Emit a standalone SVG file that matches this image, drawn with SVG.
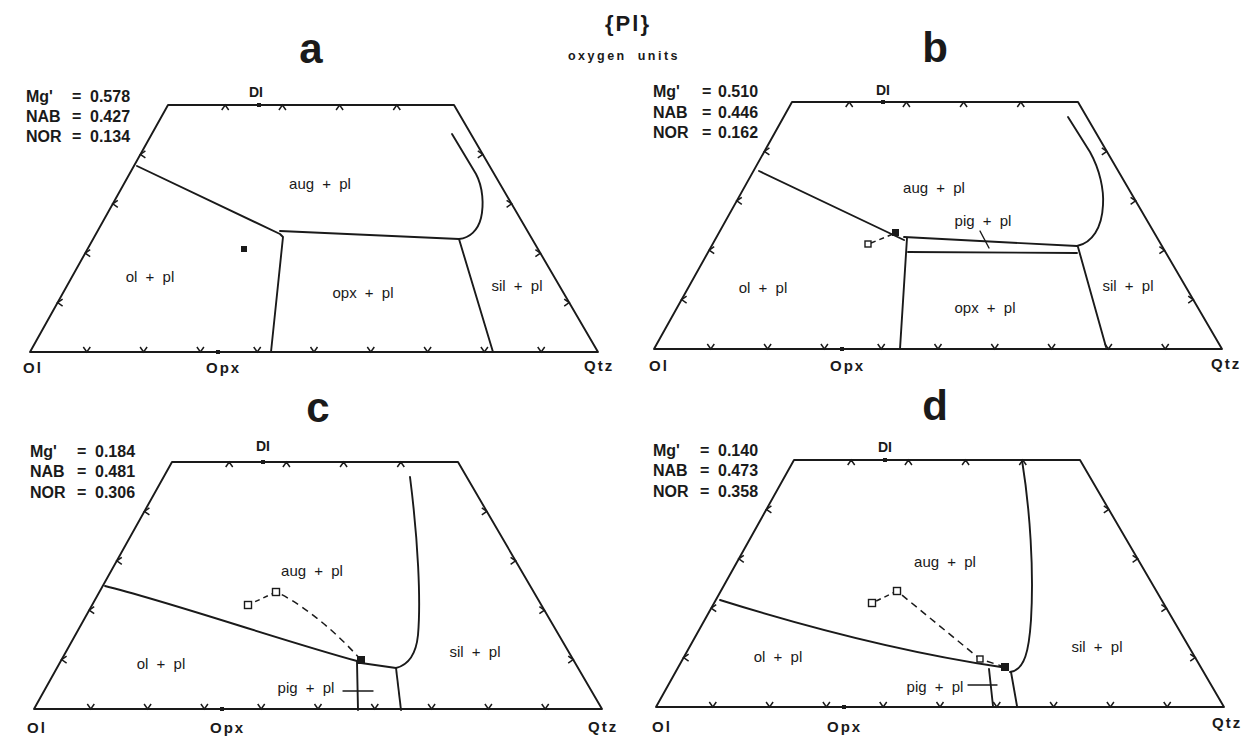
<svg xmlns="http://www.w3.org/2000/svg" xmlns:xlink="http://www.w3.org/1999/xlink" width="1259" height="739" viewBox="0 0 1259 739">
<style>
.ln{fill:none;stroke:#1a1a1a;stroke-width:1.9;stroke-linejoin:round;stroke-linecap:round}
.tk{fill:none;stroke:#1a1a1a;stroke-width:1.5}
.ds{fill:none;stroke:#1a1a1a;stroke-width:1.5;stroke-dasharray:7 5}
.fs{fill:#1a1a1a}
.os{fill:#fff;stroke:#1a1a1a;stroke-width:1.4}
.hd{font-family:"Liberation Sans",Arial,sans-serif;font-weight:bold;font-size:16px;fill:#1a1a1a}
.ax{font-family:"Liberation Sans",Arial,sans-serif;font-weight:bold;font-size:15px;letter-spacing:2px;fill:#1a1a1a}
.di{font-family:"Liberation Sans",Arial,sans-serif;font-weight:bold;font-size:14px;fill:#1a1a1a}
.ph{font-family:"Liberation Sans",Arial,sans-serif;font-size:15px;word-spacing:4px;fill:#1a1a1a}
.pn{font-family:"Liberation Sans",Arial,sans-serif;font-weight:bold;font-size:42px;fill:#1a1a1a}
</style>
<defs>
<g id="frame">
<path class="ln" d="M30,352 L168,105 L454,105 L598,352 Z"/>
<path class="tk" d="M221.7,110L225.2,105L228.7,110 M278.9,110L282.4,105L285.9,110 M336.1,110L339.6,105L343.1,110 M393.3,110L396.8,105L400.3,110 M83.3,347L86.8,352L90.3,347 M140.1,347L143.6,352L147.1,347 M196.9,347L200.4,352L203.9,347 M253.7,347L257.2,352L260.7,347 M310.5,347L314,352L317.5,347 M367.3,347L370.8,352L374.3,347 M424.1,347L427.6,352L431.1,347 M480.9,347L484.4,352L487.9,347 M537.7,347L541.2,352L544.7,347 M62.6,299.1L57.6,302.6L62.6,306.1 M90.2,249.7L85.2,253.2L90.2,256.7 M117.8,200.3L112.8,203.8L117.8,207.3 M145.4,150.9L140.4,154.4L145.4,157.9 M477.8,150.9L482.8,154.4L477.8,157.9 M506.6,200.3L511.6,203.8L506.6,207.3 M535.4,249.7L540.4,253.2L535.4,256.7 M564.2,299.1L569.2,302.6L564.2,306.1"/>
<rect class="fs" x="257" y="103" width="4" height="4"/>
<rect class="fs" x="216" y="350" width="4" height="4"/>
</g>
</defs>

<g id="title">
<text x="628" y="31" text-anchor="middle" style="font-family:'Liberation Sans',Arial,sans-serif;font-weight:bold;font-size:22px;letter-spacing:2px;fill:#1a1a1a">{Pl}</text>
<text x="624" y="60" text-anchor="middle" style="font-family:'Liberation Sans',Arial,sans-serif;font-weight:bold;font-size:12.5px;letter-spacing:2.5px;word-spacing:5px;fill:#1a1a1a">oxygen units</text>
</g>

<g id="panel-a">
<use xlink:href="#frame" href="#frame"/>
<text class="pn" x="311" y="63" text-anchor="middle">a</text>
<text class="hd" x="26" y="102">Mg'</text><text class="hd" x="72" y="102">=</text><text class="hd" x="90" y="102">0.578</text>
<text class="hd" x="26" y="122">NAB</text><text class="hd" x="72" y="122">=</text><text class="hd" x="90" y="122">0.427</text>
<text class="hd" x="26" y="142">NOR</text><text class="hd" x="72" y="142">=</text><text class="hd" x="90" y="142">0.134</text>
<text class="di" x="256" y="97" text-anchor="middle">DI</text>
<text class="ax" x="23" y="373">Ol</text>
<text class="ax" x="206" y="373">Opx</text>
<text class="ax" x="584" y="371">Qtz</text>
<g id="boundaries-a">
<path class="ln" d="M137,166 L280,234 L283,237 L271,352"/>
<path class="ln" d="M280,231 L459,239"/>
<path class="ln" d="M452,134 L476,174 C483,187 484,205 481,218 C478,230 470,238 459,239"/>
<path class="ln" d="M459,239 L493,352"/>
<rect class="fs" x="241" y="246" width="6" height="6"/>
</g>
<text class="ph" x="320" y="189" text-anchor="middle">aug + pl</text>
<text class="ph" x="150" y="282" text-anchor="middle">ol + pl</text>
<text class="ph" x="363" y="298" text-anchor="middle">opx + pl</text>
<text class="ph" x="517" y="291" text-anchor="middle">sil + pl</text>
</g>

<g id="panel-b">
<use xlink:href="#frame" href="#frame" transform="translate(624,-3)"/>
<text class="pn" x="935" y="62" text-anchor="middle">b</text>
<text class="hd" x="653" y="97">Mg'</text><text class="hd" x="702" y="97">=</text><text class="hd" x="718" y="97">0.510</text>
<text class="hd" x="653" y="118">NAB</text><text class="hd" x="702" y="118">=</text><text class="hd" x="718" y="118">0.446</text>
<text class="hd" x="653" y="138">NOR</text><text class="hd" x="702" y="138">=</text><text class="hd" x="718" y="138">0.162</text>
<text class="di" x="883" y="95" text-anchor="middle">DI</text>
<text class="ax" x="649" y="371">Ol</text>
<text class="ax" x="830" y="371">Opx</text>
<text class="ax" x="1211" y="369">Qtz</text>
<g id="boundaries-b">
<path class="ln" d="M759,171 L904,240"/>
<path class="ln" d="M904,237 L1077,246"/>
<path class="ln" d="M908,252 L1077,253"/>
<path class="ln" d="M907,238 L900,349"/>
<path class="ln" d="M1068,117 L1090,152 C1100,170 1104,190 1103,205 C1102,228 1092,243 1077,246"/>
<path class="ln" d="M1078,247 L1106,347"/>
<path class="ds" d="M871,243 L893,234" style="stroke-dasharray:5 4"/>
<rect class="os" x="865" y="241" width="6" height="6"/>
<rect class="fs" x="892" y="229" width="7" height="7"/>
<path class="ln" d="M980,231 L989,248" style="stroke-width:1.4"/>
</g>
<text class="ph" x="934" y="193" text-anchor="middle">aug + pl</text>
<text class="ph" x="983" y="226" text-anchor="middle">pig + pl</text>
<text class="ph" x="763" y="293" text-anchor="middle">ol + pl</text>
<text class="ph" x="985" y="313" text-anchor="middle">opx + pl</text>
<text class="ph" x="1128" y="291" text-anchor="middle">sil + pl</text>
</g>

<g id="panel-c">
<use xlink:href="#frame" href="#frame" transform="translate(4,357)"/>
<text class="pn" x="318" y="422" text-anchor="middle">c</text>
<text class="hd" x="30" y="457">Mg'</text><text class="hd" x="77" y="457">=</text><text class="hd" x="95" y="457">0.184</text>
<text class="hd" x="30" y="477">NAB</text><text class="hd" x="77" y="477">=</text><text class="hd" x="95" y="477">0.481</text>
<text class="hd" x="30" y="498">NOR</text><text class="hd" x="77" y="498">=</text><text class="hd" x="95" y="498">0.306</text>
<text class="di" x="263" y="451" text-anchor="middle">DI</text>
<text class="ax" x="27" y="733">Ol</text>
<text class="ax" x="210" y="733">Opx</text>
<text class="ax" x="588" y="732">Qtz</text>
<g id="boundaries-c">
<path class="ln" d="M105,586 C170,602 280,640 357,661"/>
<path class="ln" d="M361,663 L396,668"/>
<path class="ln" d="M410,477 C418,540 421,600 418,635 C416,655 408,665 396,668"/>
<path class="ln" d="M357,662 L358,710"/>
<path class="ln" d="M396,668 L401,710"/>
<path class="ds" d="M361,660 C330,625 295,600 276,592"/>
<path class="ds" d="M276,592 L248,605" style="stroke-dasharray:5 4"/>
<rect class="os" x="272.5" y="588.5" width="7" height="7"/>
<rect class="os" x="244.5" y="601.5" width="7" height="7"/>
<rect class="fs" x="357" y="656" width="8" height="8"/>
<path class="ln" d="M343,691 L373,691" style="stroke-width:1.4"/>
</g>
<text class="ph" x="312" y="576" text-anchor="middle">aug + pl</text>
<text class="ph" x="161" y="669" text-anchor="middle">ol + pl</text>
<text class="ph" x="306" y="693" text-anchor="middle">pig + pl</text>
<text class="ph" x="475" y="657" text-anchor="middle">sil + pl</text>
</g>

<g id="panel-d">
<use xlink:href="#frame" href="#frame" transform="translate(626,355)"/>
<text class="pn" x="935" y="420" text-anchor="middle">d</text>
<text class="hd" x="653" y="456">Mg'</text><text class="hd" x="700" y="456">=</text><text class="hd" x="718" y="456">0.140</text>
<text class="hd" x="653" y="476">NAB</text><text class="hd" x="700" y="476">=</text><text class="hd" x="718" y="476">0.473</text>
<text class="hd" x="653" y="497">NOR</text><text class="hd" x="700" y="497">=</text><text class="hd" x="718" y="497">0.358</text>
<text class="di" x="885" y="452" text-anchor="middle">DI</text>
<text class="ax" x="652" y="732">Ol</text>
<text class="ax" x="827" y="732">Opx</text>
<text class="ax" x="1212" y="728">Qtz</text>
<g id="boundaries-d">
<path class="ln" d="M720,600 C800,625 900,652 1001,667"/>
<path class="ln" d="M1022,460 C1030,510 1034,570 1031,620 C1029,650 1025,670 1010,672"/>
<path class="ln" d="M1011,672 L1017,706"/>
<path class="ln" d="M989,669 L993,706"/>
<path class="ds" d="M1005,667 L980,659 L897,591"/>
<path class="ds" d="M897,591 L872,603" style="stroke-dasharray:5 4"/>
<rect class="os" x="977" y="656" width="6" height="6"/>
<rect class="os" x="893.5" y="587.5" width="7" height="7"/>
<rect class="os" x="868.5" y="599.5" width="7" height="7"/>
<rect class="fs" x="1001" y="663" width="8" height="8"/>
<path class="ln" d="M968,685 L997,685" style="stroke-width:1.4"/>
</g>
<text class="ph" x="945" y="567" text-anchor="middle">aug + pl</text>
<text class="ph" x="778" y="662" text-anchor="middle">ol + pl</text>
<text class="ph" x="935" y="692" text-anchor="middle">pig + pl</text>
<text class="ph" x="1097" y="652" text-anchor="middle">sil + pl</text>
</g>
</svg>
